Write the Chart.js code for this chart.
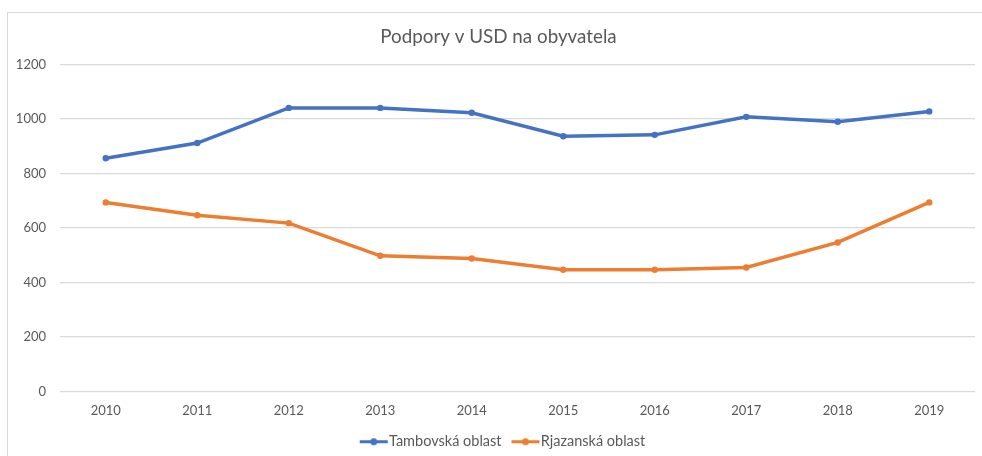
<!DOCTYPE html>
<html>
<head>
<meta charset="utf-8">
<script src="https://cdn.jsdelivr.net/npm/chart.js@4/dist/chart.umd.min.js"></script>
<style>
    html, body { margin: 0; padding: 0; background: #fff; }
    #frame { position: absolute; left: 7px; top: 12px; width: 990px; height: 460px; border: 1px solid #d9d9d9; box-sizing: border-box; }
    #wrap { position: absolute; left: 0; top: 0; width: 982px; height: 456px; }
</style>
</head>
<body>
<div id="frame"></div>
<div id="wrap"><canvas id="chart"></canvas></div>
<script>
"use strict";

const years = ['2010', '2011', '2012', '2013', '2014', '2015', '2016', '2017', '2018', '2019'];
const tambov = [856, 912, 1041, 1041, 1023, 937, 942, 1008, 990, 1028];
const rjazan = [694, 647, 618, 498, 488, 447, 447, 455, 547, 694];

const BLUE = '#4472C4', ORANGE = '#ED7D31', TEXT = '#595959', GRID = '#d9d9d9';
const FONT = "Lato, 'Open Sans', sans-serif";

// legend marker: line with a dot, drawn in the right part of the image
// so that it sits close to the label text
function marker(color) {
    const c = document.createElement('canvas');
    c.width = 46;
    c.height = 9;
    const ctx = c.getContext('2d');
    ctx.strokeStyle = color;
    ctx.lineWidth = 3;
    ctx.beginPath();
    ctx.moveTo(16, 4.5);
    ctx.lineTo(44, 4.5);
    ctx.stroke();
    ctx.fillStyle = color;
    ctx.beginPath();
    ctx.arc(30, 4.5, 3.5, 0, Math.PI * 2);
    ctx.fill();
    return c;
}

const series = [
    {label: 'Tambovská oblast', data: tambov, color: BLUE},
    {label: 'Rjazanská oblast', data: rjazan, color: ORANGE}
];
const markers = series.map(s => marker(s.color));

// title and legend are centred on the frame, not on the canvas
const shiftBlocks = {
    id: 'shiftBlocks',
    afterLayout(chart) {
        chart.titleBlock.left = 22;
        chart.legend.left = 22;
    }
};

new Chart(document.getElementById('chart'), {
    type: 'line',
    data: {
        labels: years,
        datasets: series.map(s => ({
            label: s.label,
            data: s.data,
            borderColor: s.color,
            backgroundColor: s.color,
            borderWidth: 3.5,
            pointRadius: 3.2,
            pointBorderWidth: 0,
            tension: 0
        }))
    },
    options: {
        responsive: true,
        maintainAspectRatio: false,
        animation: false,
        layout: {padding: {left: 0, right: 7, top: 26, bottom: -3}},
        plugins: {
            tooltip: {enabled: false},
            title: {
                display: true,
                text: 'Podpory v USD na obyvatela',
                color: TEXT,
                font: {family: FONT, size: 18.8, weight: 'normal'},
                padding: {top: 0, bottom: 16}
            },
            legend: {
                position: 'bottom',
                labels: {
                    color: TEXT,
                    font: {family: FONT, size: 14.5},
                    usePointStyle: true,
                    pointStyleWidth: 30,
                    padding: 2,
                    generateLabels: chart => Chart.defaults.plugins.legend.labels.generateLabels(chart)
                        .map(l => ({...l, pointStyle: markers[l.datasetIndex]}))
                }
            }
        },
        scales: {
            x: {
                offset: true,
                afterFit: scale => { scale.height = 41; },
                grid: {display: false, drawTicks: false},
                border: {display: false},
                ticks: {color: TEXT, font: {family: FONT, size: 13}, padding: 12, maxRotation: 0}
            },
            y: {
                min: 0,
                max: 1200,
                afterFit: scale => { scale.width = 60; },
                grid: {color: GRID, lineWidth: 1.3, drawTicks: false},
                border: {display: false},
                ticks: {stepSize: 200, color: TEXT, font: {family: FONT, size: 13}, padding: 14, callback: v => String(v)}
            }
        }
    },
    plugins: [shiftBlocks]
});
</script>
</body>
</html>
